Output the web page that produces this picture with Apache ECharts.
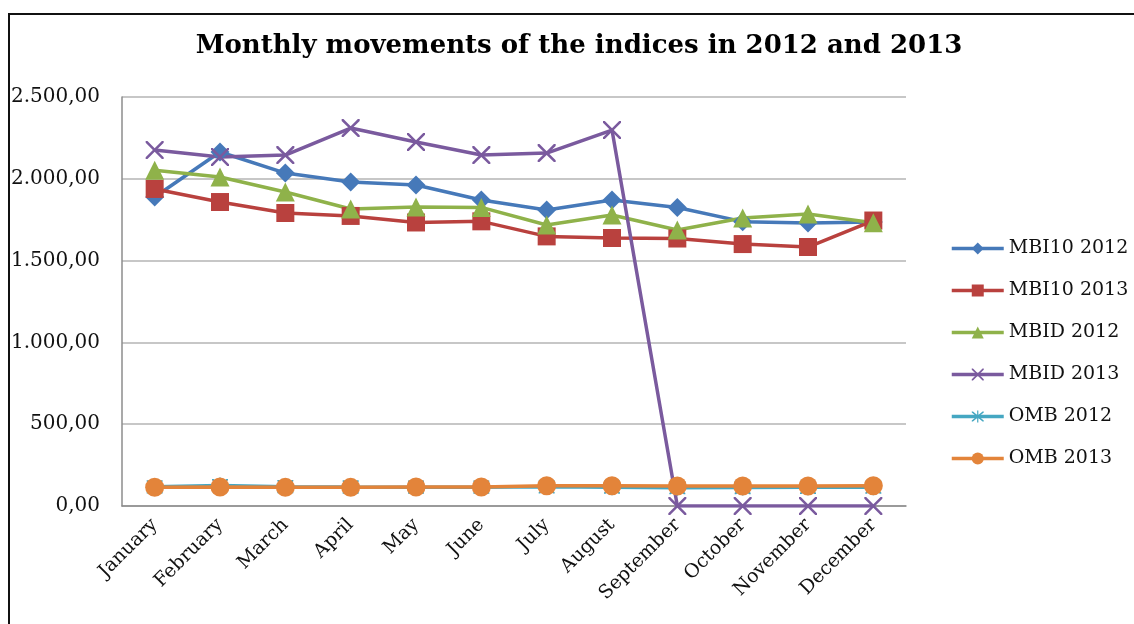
<!DOCTYPE html>
<html>
<head>
<meta charset="utf-8">
<script src="https://cdn.jsdelivr.net/npm/echarts@6/dist/echarts.min.js"></script>
<style>
  html, body { margin: 0; padding: 0; background: #fff; }
  #frame { position: absolute; left: 8px; top: 13px; width: 1200px; height: 700px; border: 2px solid #111; }
  #main { position: absolute; left: 0; top: 0; width: 1134px; height: 624px; }
</style>
</head>
<body>
<div id="frame"></div>
<div id="main"></div>
<script>
  // data
  var months = ['January', 'February', 'March', 'April', 'May', 'June', 'July', 'August', 'September', 'October', 'November', 'December'];
  var mbi10_2012 = [1889, 2164, 2035, 1980, 1962, 1870, 1809, 1870, 1825, 1738, 1730, 1736];
  var mbi10_2013 = [1938, 1858, 1791, 1773, 1733, 1740, 1648, 1638, 1635, 1601, 1583, 1745];
  var mbid_2012 = [2052, 2011, 1919, 1815, 1828, 1825, 1718, 1779, 1687, 1760, 1785, 1732];
  var mbid_2013 = [2176, 2133, 2145, 2310, 2225, 2145, 2157, 2298, 0, 0, 0, 0];
  var omb_2012 = [117, 125, 118, 116, 115, 115, 117, 115, 112, 113, 114, 115];
  var omb_2013 = [115, 116, 114, 114, 116, 116, 124, 124, 122, 122, 122, 124];
  var yTicks = [0, 500, 1000, 1500, 2000, 2500];

  var font = 'DejaVu Serif';
  // thin X and asterisk markers (filled outlines)
  var crossPath = 'path://M0,0 L1,0 L5,4 L9,0 L10,0 L10,1 L6,5 L10,9 L10,10 L9,10 L5,6 L1,10 L0,10 L0,9 L4,5 L0,1 Z';
  var starPath = crossPath + ' M4.5,-1 L5.5,-1 L5.5,11 L4.5,11 Z';

  function fmt(v) {
    var s = v.toFixed(2).split('.');
    return s[0].replace(/\B(?=(\d{3})+(?!\d))/g, '.') + ',' + s[1];
  }

  function mk(name, data, color, symbol, size, width) {
    return {
      name: name,
      type: 'line',
      data: data,
      symbol: symbol,
      symbolSize: size,
      showAllSymbol: true,
      lineStyle: { color: color, width: width },
      itemStyle: { color: color },
      emphasis: { disabled: true }
    };
  }

  var option = {
    animation: false,
    title: {
      text: 'Monthly movements of the indices in 2012 and 2013',
      left: 574,
      textAlign: 'center',
      top: 28,
      textStyle: { fontFamily: font, fontWeight: 'bold', fontSize: 26, color: '#000' }
    },
    legend: {
      orient: 'vertical',
      left: 945,
      top: 234,
      itemWidth: 52,
      itemHeight: 15,
      itemGap: 23,
      lineStyle: { width: 3.5 },
      textStyle: { fontFamily: font, fontSize: 19, color: '#111' },
      data: ['MBI10 2012', 'MBI10 2013', 'MBID 2012', 'MBID 2013', 'OMB 2012', 'OMB 2013']
    },
    grid: { left: 122, right: 228, top: 97, bottom: 118 },
    xAxis: {
      type: 'category',
      data: months,
      boundaryGap: true,
      axisLine: { lineStyle: { color: '#8c8c8c', width: 1.5 } },
      axisTick: { show: false },
      axisLabel: { rotate: 45, margin: 16, interval: 0, fontFamily: font, fontSize: 19, color: '#111' }
    },
    yAxis: {
      type: 'value',
      min: yTicks[0],
      max: yTicks[yTicks.length - 1],
      interval: 500,
      axisLine: { show: true, lineStyle: { color: '#8c8c8c', width: 1.5 } },
      axisTick: { show: false },
      splitLine: { lineStyle: { color: '#b5b5b5', width: 1.5 } },
      axisLabel: { margin: 22, fontFamily: font, fontSize: 20, color: '#111', formatter: fmt }
    },
    series: [
      mk('MBI10 2012', mbi10_2012, '#4679b9', 'diamond', 19, 3.5),
      mk('MBI10 2013', mbi10_2013, '#b9413e', 'rect', 18, 3.5),
      mk('MBID 2012', mbid_2012, '#8fb24a', 'triangle', 19, 3.5),
      mk('MBID 2013', mbid_2013, '#7a5a9e', crossPath, 18, 3.5),
      mk('OMB 2012', omb_2012, '#45a7c2', starPath, 16, 3.5),
      mk('OMB 2013', omb_2013, '#e3843a', 'circle', 19, 3.5)
    ]
  };

  var myChart = echarts.init(document.getElementById('main'));
  myChart.setOption(option);
</script>
</body>
</html>
